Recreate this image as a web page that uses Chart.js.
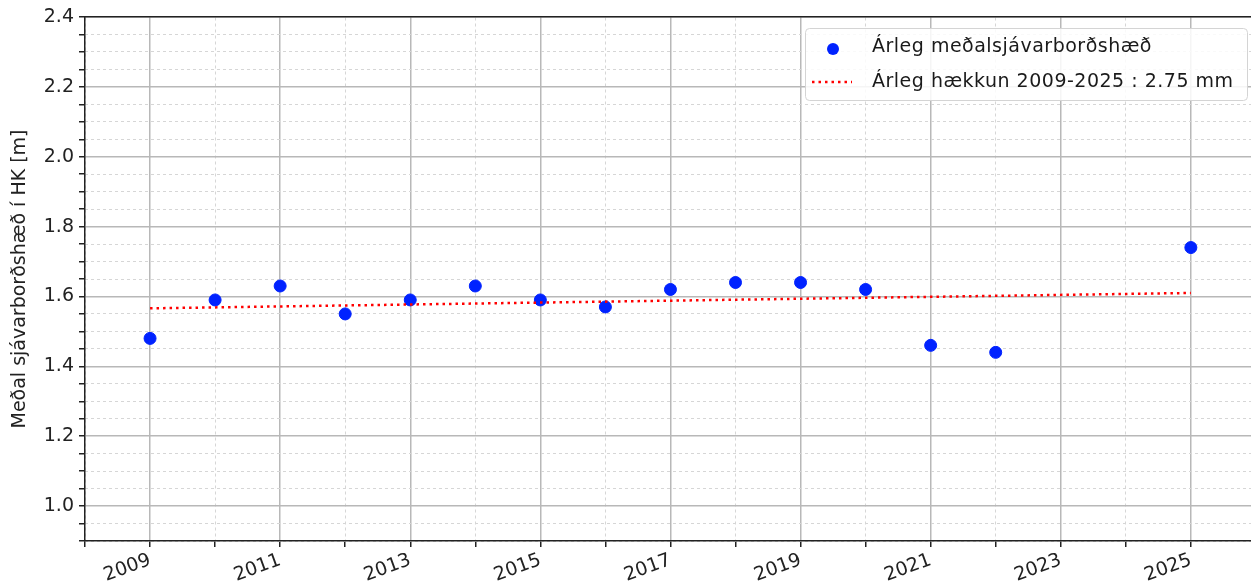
<html>
  <head>
    <script src="https://cdn.jsdelivr.net/npm/chart.js@4/dist/chart.umd.min.js"></script>
    <style>
      body { margin: 0; overflow: hidden; background: #fff; }
      #wrap { position: relative; width: 1251px; height: 587px; overflow: hidden; }
    </style>
  </head>
  <body>
    <div id="wrap">
      <canvas id="myChart" width="1259" height="587"></canvas>
    </div>
    <script>
      // annual mean sea level (m, HK datum)
      const years = [2009, 2010, 2011, 2012, 2013, 2014, 2015, 2016, 2017, 2018, 2019, 2020, 2021, 2022, 2025];
      const levels = [1.48, 1.59, 1.63, 1.55, 1.59, 1.63, 1.59, 1.57, 1.62, 1.64, 1.64, 1.62, 1.46, 1.44, 1.74];
      // linear trend 2009-2025
      const trendYears = [2009, 2025];
      const trendLevels = [1.566, 1.610];
      const xTickYears = [2008, 2009, 2010, 2011, 2012, 2013, 2014, 2015, 2016, 2017, 2018, 2019, 2020, 2021, 2022, 2023, 2024, 2025];

      const seriesLabel = "Árleg meðalsjávarborðshæð";
      const trendLabel = "Árleg hækkun 2009-2025 : 2.75 mm";
      const yTitle = "Meðal sjávarborðshæð í HK [m]";

      const FONT = "'DejaVu Sans', sans-serif";
      const dotColor = "#0022ff";

      const isMajorY = v => Math.abs(v * 5 - Math.round(v * 5)) < 1e-6;
      const isMajorX = v => Math.round(v) % 2 === 1;

      const legendPlugin = {
        id: "boxLegend",
        afterDraw(chart) {
          const ctx = chart.ctx;
          const x = 805, y = 28, w = 442, h = 72;
          ctx.save();
          ctx.fillStyle = "rgba(255,255,255,0.85)";
          ctx.strokeStyle = "#d4d4d4";
          ctx.lineWidth = 1;
          ctx.beginPath();
          ctx.roundRect(x + 0.5, y + 0.5, w, h, 4);
          ctx.fill();
          ctx.stroke();

          ctx.fillStyle = dotColor;
          ctx.beginPath();
          ctx.arc(833, 49, 6, 0, Math.PI * 2);
          ctx.fill();

          ctx.strokeStyle = "#ff0000";
          ctx.lineWidth = 2.5;
          ctx.setLineDash([2.5, 4]);
          ctx.beginPath();
          ctx.moveTo(812, 82);
          ctx.lineTo(852, 82);
          ctx.stroke();
          ctx.setLineDash([]);

          ctx.fillStyle = "#1a1a1a";
          ctx.font = "19px " + FONT;
          ctx.letterSpacing = "0.5px";
          ctx.textBaseline = "middle";
          ctx.fillText(seriesLabel, 872, 47);
          ctx.fillText(trendLabel, 872, 82);
          ctx.restore();
        }
      };

      const ctx = document.getElementById("myChart").getContext("2d");
      const chart = new Chart(ctx, {
        data: {
          datasets: [
            {
              type: "scatter",
              label: seriesLabel,
              data: years.map((yr, i) => ({ x: yr, y: levels[i] })),
              backgroundColor: dotColor,
              borderColor: dotColor,
              pointRadius: 6,
              pointHoverRadius: 6,
              order: 1
            },
            {
              type: "line",
              label: trendLabel,
              data: trendYears.map((yr, i) => ({ x: yr, y: trendLevels[i] })),
              borderColor: "#ff0000",
              borderWidth: 2.5,
              borderDash: [2.5, 4],
              pointRadius: 0,
              fill: false,
              order: 0
            }
          ]
        },
        options: {
          responsive: false,
          animation: false,
          layout: { padding: { top: 17, left: 0, right: 0, bottom: 0 } },
          plugins: { legend: { display: false }, tooltip: { enabled: false } },
          scales: {
            x: {
              type: "linear",
              position: "bottom",
              min: 2008,
              max: 2025.94,
              afterBuildTicks: s => { s.ticks = xTickYears.map(v => ({ value: v })); },
              afterFit: s => { s.height = 46; },
              ticks: {
                autoSkip: false,
                minRotation: 20,
                maxRotation: 20,
                padding: 2,
                color: "#222",
                font: { family: FONT, size: 19 },
                callback: v => (isMajorX(v) ? String(v) : "")
              },
              grid: {
                color: c => (c.tick && isMajorX(c.tick.value) ? "#b8b8b8" : "rgba(0,0,0,0)"),
                lineWidth: 1.5,
                tickColor: "#222",
                tickLength: 6
              },
              border: { display: true, color: "#222", width: 1.5 }
            },
            x2: {
              type: "linear",
              position: "top",
              min: 2008,
              max: 2025.94,
              afterBuildTicks: s => { s.ticks = xTickYears.map(v => ({ value: v })); },
              afterFit: s => { s.height = 0; },
              ticks: { display: false },
              grid: {
                color: c => (c.tick && !isMajorX(c.tick.value) ? "#d6d6d6" : "rgba(0,0,0,0)"),
                lineWidth: 1,
                drawTicks: false
              },
              border: { display: true, color: "#222", width: 1.5, dash: [3, 3] }
            },
            y: {
              position: "left",
              min: 0.9,
              max: 2.4,
              afterFit: s => { s.width = 85; },
              ticks: {
                stepSize: 0.05,
                autoSkip: false,
                padding: 5,
                color: "#222",
                font: { family: FONT, size: 19 },
                callback: v => (isMajorY(v) ? v.toFixed(1) : "")
              },
              grid: {
                color: c => (c.tick && isMajorY(c.tick.value) ? "#b8b8b8" : "rgba(0,0,0,0)"),
                lineWidth: 1.5,
                tickColor: "#222",
                tickLength: 6
              },
              border: { display: true, color: "#222", width: 1.5 },
              title: {
                display: true,
                text: yTitle,
                color: "#222",
                font: { family: FONT, size: 19 },
                padding: { top: 9, bottom: 0 }
              }
            },
            y2: {
              position: "left",
              min: 0.9,
              max: 2.4,
              afterFit: s => { s.width = 0; },
              ticks: { stepSize: 0.05, display: false },
              grid: {
                color: c => (c.tick && !isMajorY(c.tick.value) ? "#d6d6d6" : "rgba(0,0,0,0)"),
                lineWidth: 1,
                drawTicks: false
              },
              border: { display: false, dash: [3, 3] }
            }
          }
        },
        plugins: [legendPlugin]
      });
    </script>
  </body>
</html>
